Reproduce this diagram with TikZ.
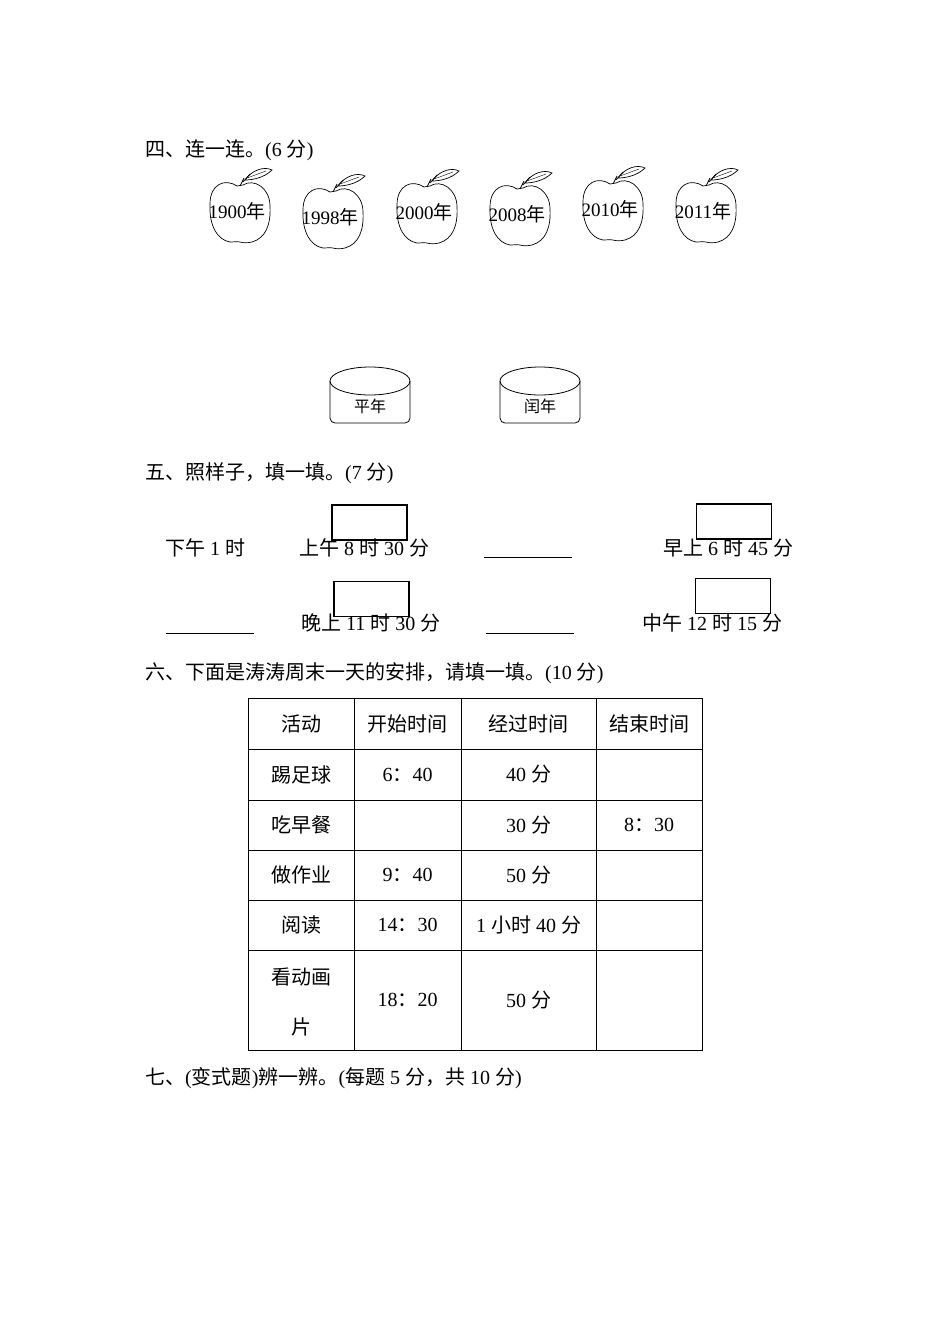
\documentclass[tikz,border=0pt]{standalone}
\usepackage{fontspec}
\setmainfont{Liberation Serif}
\newfontfamily\cjk{Noto Sans CJK SC}
\newcommand{\C}[1]{{\cjk #1}}
\begin{document}
\begin{tikzpicture}[x=1pt,y=-1pt,
  txt/.style={font=\fontsize{20}{22}\selectfont,inner sep=0pt},
  sm/.style={font=\fontsize{16}{18}\selectfont,inner sep=0pt},
  ap/.style={font=\fontsize{19}{20}\selectfont,inner sep=0pt},
  blank/.style={draw,line width=1.8pt,minimum width=75pt,minimum height=35pt,inner sep=0pt},
  ul/.style={line width=0.8pt}]
\useasboundingbox (0,0) rectangle (950,1344);
\fill[white] (0,0) rectangle (950,1344);
% headings
\node[txt,anchor=west] (h4) at (145,150) {\C{四、连一连。}(6 \C{分})};
\node[txt,anchor=west] (h5) at (145,473) {\C{五、照样子，填一填。}(7 \C{分})};
\node[txt,anchor=west] (h6) at (145,673) {\C{六、下面是涛涛周末一天的安排，请填一填。}(10 \C{分})};
\node[txt,anchor=west] (h7) at (145,1078) {\C{七、}(\C{变式题})\C{辨一辨。}(\C{每题} 5 \C{分，共} 10 \C{分})};
% apples
\foreach \x/\y/\t [count=\i] in {240/212/1900,333/218/1998,427/213/2000,520/215/2008,613/210/2010,706/212/2011}{
  \begin{scope}[shift={(\x,\y)}]
  \draw[line width=0.7pt] (-3,-26) .. controls (-15,-34) and (-30,-28) .. (-30,-8)
     .. controls (-31,15) and (-22,28) .. (-10,30) .. controls (-4,30) and (-2,29) .. (0,30)
     .. controls (3,31) and (8,31) .. (12,30) .. controls (26,26) and (31,12) .. (30,-6)
     .. controls (30,-24) and (14,-34) .. (3,-27) -- cycle;
  \draw[line width=0.7pt] (0,-26) -- (4,-34) (3,-30) -- (10,-38);
  \draw[line width=0.7pt] (5,-32) .. controls (12,-42) and (24,-46) .. (32,-42) .. controls (24,-34) and (12,-32) .. (5,-32);
  \draw[line width=0.4pt] (7,-34) -- (26,-41);
  \node[ap] (ap\i) at (-3,-1) {\t\C{年}};
  \end{scope}}
% cylinders
\foreach \x/\t/\n in {370/平年/p,540/闰年/r}{
  \draw[line width=0.8pt,rounded corners=5pt] (\x-40,381) -- (\x-40,423) -- (\x+40,423) -- (\x+40,381);
  \draw[line width=0.8pt] (\x,381) ellipse [x radius=40, y radius=14];
  \node[sm] (cy\n) at (\x,406) {\C{\t}};}
% section 5
\node[txt,anchor=base west] (a1) at (165,555) {\C{下午} 1 \C{时}};
\node[txt,anchor=base west] (a2) at (299,555) {\C{上午} 8 \C{时} 30 \C{分}};
\node[txt,anchor=base west] (a3) at (663,555) {\C{早上} 6 \C{时} 45 \C{分}};
\node[txt,anchor=base west] (b2) at (301,630) {\C{晚上} 11 \C{时} 30 \C{分}};
\node[txt,anchor=base west] (b3) at (642,630) {\C{中午} 12 \C{时} 15 \C{分}};
\node[blank] (k1) at (369.5,522.5) {};
\node[blank] (k2) at (734,521.5) {};
\node[blank] (k3) at (371.5,599) {};
\node[blank] (k4) at (733,596) {};
\coordinate (u1a) at (484,557); \coordinate (u1b) at (572,557);
\coordinate (u2a) at (166,633); \coordinate (u2b) at (254,633);
\coordinate (u3a) at (486,633); \coordinate (u3b) at (574,633);
\draw[ul] (u1a) -- (u1b); \draw[ul] (u2a) -- (u2b); \draw[ul] (u3a) -- (u3b);
% table
\draw[line width=0.8pt] (248,698) rectangle (702,1050);
\foreach \xx in {354,461,596} \draw[line width=0.8pt] (\xx,698) -- (\xx,1050);
\foreach \yy in {749,800,850,900,950} \draw[line width=0.8pt] (248,\yy) -- (702,\yy);
\foreach \y/\a/\b/\c/\d [count=\i] in {723.5/\C{活动}/\C{开始时间}/\C{经过时间}/\C{结束时间},
   774.5/\C{踢足球}/6\C{：}40/40 \C{分}/,
   825/\C{吃早餐}//30 \C{分}/8\C{：}30,
   875/\C{做作业}/9\C{：}40/50 \C{分}/,
   925/\C{阅读}/14\C{：}30/1 \C{小时} 40 \C{分}/,
   1000/{}/18\C{：}20/50 \C{分}/}{
  \node[txt] (r\i a) at (301,\y) {\a};
  \node[txt] (r\i b) at (407.5,\y) {\b};
  \node[txt] (r\i c) at (528.5,\y) {\c};
  \node[txt] (r\i d) at (649,\y) {\d};}
\node[txt] (r6x) at (301,977) {\C{看动画}};
\node[txt] (r6y) at (301,1027) {\C{片}};
\end{tikzpicture}
\end{document}
